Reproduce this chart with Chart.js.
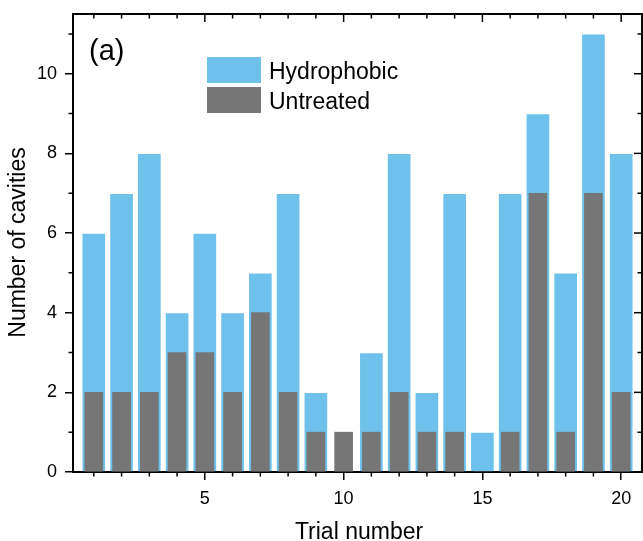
<!DOCTYPE html>
<html>
<head>
<meta charset="utf-8">
<script src="https://cdn.jsdelivr.net/npm/chart.js@4.4.1/dist/chart.umd.min.js"></script>
<style>
  html, body { margin: 0; padding: 0; background: #fff; }
  #wrap { width: 643px; height: 541px; }
</style>
</head>
<body>
<div id="wrap"><canvas id="c" width="643" height="541"></canvas></div>
<script>
const trials = [1,2,3,4,5,6,7,8,9,10,11,12,13,14,15,16,17,18,19,20];
const hydrophobic = [6,7,8,4,6,4,5,7,2,0,3,8,2,7,1,7,9,5,11,8];
const untreated = [2,2,2,3,3,2,4,2,1,1,1,2,1,1,0,1,7,1,7,2];
const xMajorTicks = [5,10,15,20];
const yMajorTicks = [0,2,4,6,8,10];
const seriesLabels = ['Hydrophobic', 'Untreated'];
const xTitle = 'Trial number';
const yTitle = 'Number of cavities';
const panelLabel = '(a)';

const FONT = '"Liberation Sans", Arial, sans-serif';
const BLUE = '#6EC1EA';
const GREY = '#767676';

function pts(vals) { return trials.map((t, i) => ({ x: t, y: vals[i] })); }

const decor = {
  id: 'decor',
  afterDraw(chart) {
    const ctx = chart.ctx;
    const a = chart.chartArea;
    const xs = chart.scales.x, ys = chart.scales.y;
    ctx.save();
    ctx.strokeStyle = '#000';
    // top and right frame
    ctx.lineWidth = 2;
    ctx.beginPath();
    ctx.moveTo(a.left - 1, a.top); ctx.lineTo(a.right, a.top); ctx.lineTo(a.right, a.bottom + 1);
    ctx.stroke();
    ctx.lineWidth = 1.5;
    const MAJ = 8, MIN = 4.5;
    // x ticks
    for (let v = 1; v <= 20; v++) {
      const px = xs.getPixelForValue(v);
      const major = xMajorTicks.includes(v);
      const L = major ? MAJ : MIN;
      ctx.beginPath();
      if (!major) { ctx.moveTo(px, a.bottom); ctx.lineTo(px, a.bottom + L); }
      ctx.moveTo(px, a.top); ctx.lineTo(px, a.top + L);
      ctx.stroke();
    }
    // y ticks
    for (let v = 0; v <= 11; v++) {
      const py = ys.getPixelForValue(v);
      const major = yMajorTicks.includes(v);
      const L = major ? MAJ : MIN;
      ctx.beginPath();
      if (!major) { ctx.moveTo(a.left, py); ctx.lineTo(a.left - L, py); }
      ctx.moveTo(a.right, py); ctx.lineTo(a.right - L, py);
      ctx.stroke();
    }
    // legend
    const ds = chart.data.datasets;
    const boxes = [{ y: 57 }, { y: 87 }];
    ctx.font = '23px ' + FONT;
    ctx.textBaseline = 'alphabetic';
    ctx.textAlign = 'left';
    for (let i = 0; i < 2; i++) {
      ctx.fillStyle = ds[i].backgroundColor;
      ctx.fillRect(207, boxes[i].y, 54, 26);
      ctx.fillStyle = '#000';
      ctx.fillText(ds[i].label, 269, boxes[i].y + 21.5);
    }
    // panel label
    ctx.font = '29px ' + FONT;
    ctx.fillText(panelLabel, 89, 60);
    // axis titles
    ctx.font = '23px ' + FONT;
    ctx.textAlign = 'center';
    ctx.fillText(xTitle, 359, 538.5);
    ctx.save();
    ctx.translate(25, 242.5);
    ctx.rotate(-Math.PI / 2);
    ctx.fillText(yTitle, 0, 0);
    ctx.restore();
    ctx.restore();
  }
};

new Chart(document.getElementById('c'), {
  type: 'bar',
  data: {
    datasets: [
      { label: seriesLabels[0], data: pts(hydrophobic), backgroundColor: BLUE,
        borderColor: 'rgba(255,255,255,0.7)', borderWidth: 1, barThickness: 24, grouped: false, order: 1 },
      { label: seriesLabels[1], data: pts(untreated), backgroundColor: GREY,
        borderWidth: 0, barThickness: 18, grouped: false, order: 0 }
    ]
  },
  options: {
    responsive: false,
    animation: false,
    devicePixelRatio: 1,
    layout: { padding: { top: 14, right: 1, left: 0, bottom: 0 } },
    plugins: { legend: { display: false }, tooltip: { enabled: false } },
    scales: {
      x: {
        type: 'linear', min: 0.25, max: 20.75, offset: false,
        afterBuildTicks: s => { s.ticks = xMajorTicks.map(v => ({ value: v })); },
        afterFit: s => { s.height = 69; s.paddingLeft = 0; s.paddingRight = 0; },
        grid: { offset: false, drawOnChartArea: false, drawTicks: true, tickLength: 8, color: '#000', lineWidth: 1.5 },
        border: { display: true, color: '#000', width: 2 },
        ticks: { color: '#000', font: { family: FONT, size: 18 }, padding: 8, maxRotation: 0,
                 callback: v => String(v) }
      },
      y: {
        type: 'linear', min: 0, max: 11.5,
        afterBuildTicks: s => { s.ticks = yMajorTicks.map(v => ({ value: v })); },
        afterFit: s => { s.width = 73; s.paddingTop = 0; s.paddingBottom = 0; },
        grid: { drawOnChartArea: false, drawTicks: true, tickLength: 8, color: '#000', lineWidth: 1.5 },
        border: { display: true, color: '#000', width: 2 },
        ticks: { color: '#000', font: { family: FONT, size: 18 }, padding: 8,
                 callback: v => String(v) }
      }
    }
  },
  plugins: [decor]
});
</script>
</body>
</html>
